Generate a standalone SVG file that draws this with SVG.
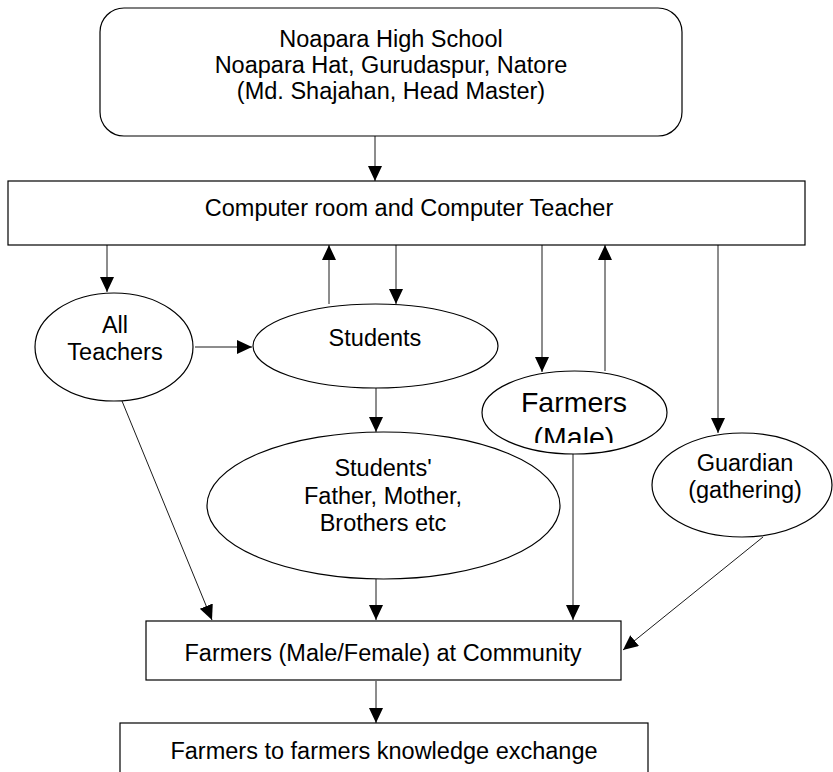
<svg xmlns="http://www.w3.org/2000/svg" width="833" height="772" viewBox="0 0 833 772">
<style>
.shape{fill:#fff;stroke:#000;stroke-width:1.2}
.t{font-family:"Liberation Sans",Arial,sans-serif;font-size:23.5px;fill:#000;text-anchor:middle}
.big{font-size:28.5px}
.c{stroke:#000;stroke-width:0.9;fill:none;marker-end:url(#ah)}
</style>
<defs>
<marker id="ah" markerUnits="userSpaceOnUse" markerWidth="16" markerHeight="15" refX="15" refY="7" orient="auto">
<path d="M0,0 L15,7 L0,14 z" fill="#000"/>
</marker>
<clipPath id="clipMale"><rect x="470" y="360" width="210" height="83"/></clipPath>
</defs>
<rect width="833" height="772" fill="#fff"/>
<g id="connectors">
<line class="c" x1="375" y1="136" x2="375" y2="181"/>
<line class="c" x1="107" y1="245" x2="107" y2="292"/>
<line class="c" x1="329" y1="304" x2="329" y2="245"/>
<line class="c" x1="396" y1="245" x2="396" y2="304"/>
<line class="c" x1="542" y1="245" x2="542" y2="372"/>
<line class="c" x1="605" y1="371" x2="605" y2="245"/>
<line class="c" x1="718" y1="245" x2="718" y2="433"/>
<line class="c" x1="195" y1="347" x2="252" y2="347"/>
<line class="c" x1="376" y1="388" x2="376" y2="432"/>
<line class="c" x1="122" y1="401" x2="212" y2="620"/>
<line class="c" x1="376" y1="579" x2="376" y2="620"/>
<line class="c" x1="573" y1="454" x2="573" y2="620"/>
<line class="c" x1="763" y1="537" x2="623" y2="650"/>
<line class="c" x1="376" y1="681" x2="376" y2="723"/>
</g>
<g id="school">
<rect class="shape" x="100" y="8" width="582" height="128" rx="24" ry="24"/>
<text class="t" x="391" y="47">Noapara High School</text>
<text class="t" x="391" y="73">Noapara Hat, Gurudaspur, Natore</text>
<text class="t" x="391" y="99">(Md. Shajahan, Head Master)</text>
</g>
<g id="computer">
<rect class="shape" x="8" y="181" width="797" height="64"/>
<text class="t" x="409" y="216">Computer room and Computer Teacher</text>
</g>
<g id="teachers">
<ellipse class="shape" cx="114" cy="347" rx="79" ry="54"/>
<text class="t" x="115" y="333">All</text>
<text class="t" x="115" y="360">Teachers</text>
</g>
<g id="students">
<ellipse class="shape" cx="375.5" cy="346" rx="122.5" ry="42"/>
<text class="t" x="375" y="346">Students</text>
</g>
<g id="family">
<ellipse class="shape" cx="383.5" cy="505.5" rx="176.5" ry="73.5"/>
<text class="t" x="383" y="476">Students'</text>
<text class="t" x="383" y="504">Father, Mother,</text>
<text class="t" x="383" y="531">Brothers etc</text>
</g>
<g id="farmers-male">
<ellipse class="shape" cx="574.5" cy="412.5" rx="92.5" ry="41.5"/>
<g clip-path="url(#clipMale)">
<text class="t big" x="574" y="412">Farmers</text>
<text class="t big" x="574" y="447">(Male)</text>
</g>
</g>
<g id="guardian">
<ellipse class="shape" cx="742" cy="485" rx="90" ry="52"/>
<text class="t" x="745" y="471">Guardian</text>
<text class="t" x="745" y="498">(gathering)</text>
</g>
<g id="community">
<rect class="shape" x="146" y="621" width="475" height="59"/>
<text class="t" x="383" y="661">Farmers (Male/Female) at Community</text>
</g>
<g id="exchange">
<rect class="shape" x="120" y="723" width="528" height="60"/>
<text class="t" x="384" y="759">Farmers to farmers knowledge exchange</text>
</g>
</svg>
